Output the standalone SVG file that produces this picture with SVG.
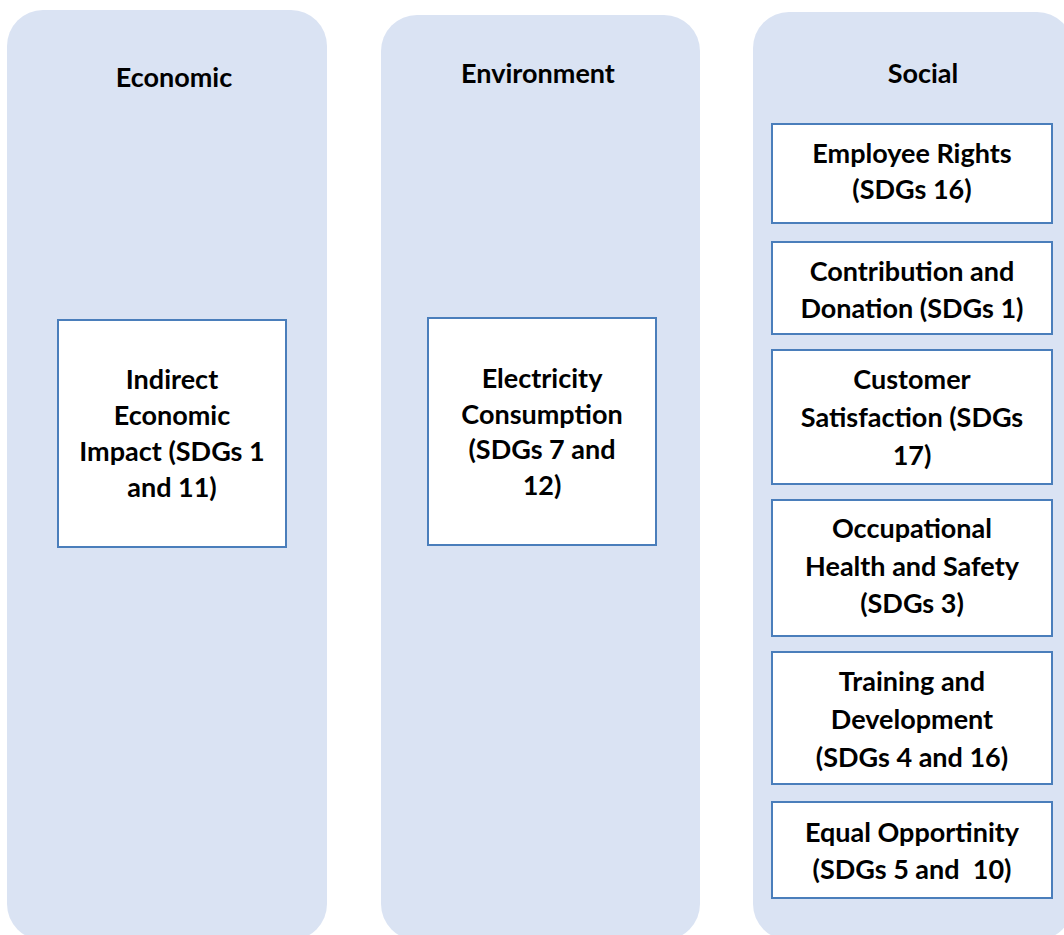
<svg xmlns="http://www.w3.org/2000/svg" width="1064" height="935" viewBox="0 0 1064 935">
  <style>
    .col { fill: #dae3f3; }
    .box { fill: #ffffff; stroke: #4a7ebb; stroke-width: 2; }
    .t { font-family: Lato, "Open Sans", "Liberation Sans", sans-serif; font-weight: bold; font-size: 27px; fill: #000000; text-anchor: middle; }
  </style>
  <rect width="1064" height="935" fill="#ffffff"/>

  <!-- Columns -->
  <g id="col-economic">
    <rect class="col" x="7" y="10" width="320" height="930" rx="36" ry="36"/>
    <text class="t" x="174" y="87">Economic</text>
  </g>
  <g id="col-environment">
    <rect class="col" x="381" y="15" width="319" height="925" rx="36" ry="36"/>
    <text class="t" x="538" y="83">Environment</text>
  </g>
  <g id="col-social">
    <rect class="col" x="753" y="12" width="320" height="928" rx="36" ry="36"/>
    <text class="t" x="923" y="83">Social</text>
  </g>

  <!-- Economic topic -->
  <g id="indirect-economic-impact">
    <rect class="box" x="58" y="320" width="228" height="227"/>
    <text class="t" x="172" y="389">Indirect</text>
    <text class="t" x="172" y="425">Economic</text>
    <text class="t" x="172" y="461">Impact (SDGs 1</text>
    <text class="t" x="172" y="497">and 11)</text>
  </g>

  <!-- Environment topic -->
  <g id="electricity-consumption">
    <rect class="box" x="428" y="318" width="228" height="227"/>
    <text class="t" x="542" y="388">Electricity</text>
    <text class="t" x="542" y="424">Consumption</text>
    <text class="t" x="542" y="459">(SDGs 7 and</text>
    <text class="t" x="542" y="495">12)</text>
  </g>

  <!-- Social topics -->
  <g id="employee-rights">
    <rect class="box" x="772" y="124" width="280" height="99"/>
    <text class="t" x="912" y="163">Employee Rights</text>
    <text class="t" x="912" y="199">(SDGs 16)</text>
  </g>
  <g id="contribution-donation">
    <rect class="box" x="772" y="242" width="280" height="92"/>
    <text class="t" x="912" y="281">Contribution and</text>
    <text class="t" x="912" y="318">Donation (SDGs 1)</text>
  </g>
  <g id="customer-satisfaction">
    <rect class="box" x="772" y="350" width="280" height="134"/>
    <text class="t" x="912" y="389">Customer</text>
    <text class="t" x="912" y="427">Satisfaction (SDGs</text>
    <text class="t" x="912" y="465">17)</text>
  </g>
  <g id="occupational-health-safety">
    <rect class="box" x="772" y="500" width="280" height="136"/>
    <text class="t" x="912" y="538">Occupational</text>
    <text class="t" x="912" y="576">Health and Safety</text>
    <text class="t" x="912" y="613">(SDGs 3)</text>
  </g>
  <g id="training-development">
    <rect class="box" x="772" y="652" width="280" height="132"/>
    <text class="t" x="912" y="691">Training and</text>
    <text class="t" x="912" y="729">Development</text>
    <text class="t" x="912" y="767">(SDGs 4 and 16)</text>
  </g>
  <g id="equal-opportunity">
    <rect class="box" x="772" y="802" width="280" height="96"/>
    <text class="t" x="912" y="842">Equal Opportinity</text>
    <text class="t" x="912" y="879" xml:space="preserve">(SDGs 5 and  10)</text>
  </g>

  <!-- No connectors in this diagram -->
  <g id="connectors"/>
</svg>
